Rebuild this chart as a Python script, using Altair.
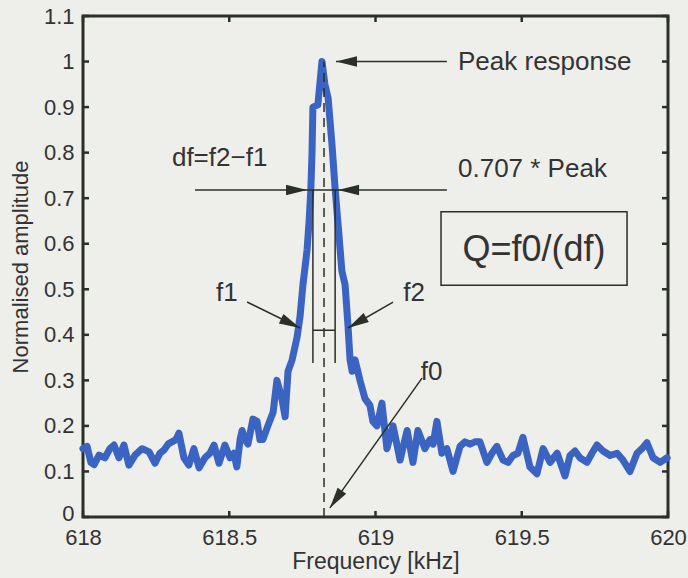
import altair as alt
import pandas as pd

# ---- measured spectrum (kHz, normalised amplitude) ----
freq = [618.000, 618.014, 618.027, 618.038, 618.055, 618.075, 618.092, 618.106, 618.123, 618.140,
        618.157, 618.178, 618.202, 618.226, 618.246, 618.263, 618.277, 618.291, 618.304, 618.318,
        618.328, 618.345, 618.362, 618.379, 618.397, 618.417, 618.434, 618.448, 618.465, 618.485,
        618.503, 618.516, 618.526, 618.537, 618.544, 618.554, 618.564, 618.581, 618.595, 618.605,
        618.615, 618.632, 618.650, 618.663, 618.680, 618.691, 618.701, 618.715, 618.732, 618.742,
        618.752, 618.766, 618.773, 618.779, 618.783, 618.786, 618.803, 618.817, 618.827, 618.838,
        618.851, 618.862, 618.875, 618.885, 618.896, 618.906, 618.913, 618.920, 618.930, 618.947,
        618.964, 618.981, 618.991, 619.005, 619.022, 619.039, 619.060, 619.084, 619.108, 619.128,
        619.145, 619.169, 619.186, 619.197, 619.210, 619.227, 619.244, 619.265, 619.289, 619.306,
        619.323, 619.340, 619.357, 619.381, 619.398, 619.415, 619.436, 619.453, 619.470, 619.487,
        619.504, 619.528, 619.552, 619.573, 619.597, 619.621, 619.648, 619.665, 619.682, 619.699,
        619.723, 619.740, 619.757, 619.778, 619.802, 619.826, 619.846, 619.870, 619.894, 619.911,
        619.928, 619.949, 619.973, 619.997]
amp = [0.150, 0.155, 0.120, 0.115, 0.136, 0.130, 0.150, 0.158, 0.130, 0.158,
       0.114, 0.136, 0.150, 0.143, 0.118, 0.140, 0.147, 0.160, 0.165, 0.170,
       0.184, 0.130, 0.114, 0.150, 0.108, 0.130, 0.140, 0.158, 0.118, 0.158,
       0.130, 0.140, 0.110, 0.170, 0.190, 0.170, 0.160, 0.215, 0.210, 0.170,
       0.170, 0.200, 0.230, 0.300, 0.260, 0.220, 0.320, 0.345, 0.395, 0.440,
       0.510, 0.586, 0.650, 0.720, 0.800, 0.900, 0.905, 1.000, 0.950, 0.920,
       0.820, 0.720, 0.620, 0.540, 0.510, 0.420, 0.345, 0.320, 0.345, 0.300,
       0.260, 0.245, 0.210, 0.200, 0.250, 0.150, 0.200, 0.125, 0.190, 0.120,
       0.190, 0.150, 0.170, 0.160, 0.210, 0.140, 0.150, 0.100, 0.155, 0.165,
       0.160, 0.165, 0.165, 0.120, 0.140, 0.155, 0.125, 0.120, 0.135, 0.140,
       0.175, 0.110, 0.095, 0.150, 0.120, 0.140, 0.090, 0.135, 0.145, 0.130,
       0.120, 0.140, 0.158, 0.145, 0.135, 0.140, 0.125, 0.100, 0.140, 0.150,
       0.163, 0.130, 0.120, 0.130]

x_ticks = [618, 618.5, 619, 619.5, 620]
y_ticks = [0, 0.1, 0.2, 0.3, 0.4, 0.5, 0.6, 0.7, 0.8, 0.9, 1.0, 1.1]

# ---- annotation values ----
f0 = 618.824
f1 = 618.786
f2 = 618.862
half_level = 0.718
peak = 1.0
inner_level = 0.41
inner_bottom = 0.338

# straight segments: x0, y0 -> x1, y1
seg_x0 = [618.383, 619.244, 618.561, 619.060, 619.159, f1, f2, f1]
seg_y0 = [half_level, peak, 0.472, 0.472, 0.305, half_level, half_level, inner_level]
seg_x1 = [619.244, 618.865, 618.742, 618.906, 618.844, f1, f2, f2]
seg_y1 = [half_level, peak, 0.415, 0.415, 0.020, inner_bottom, inner_bottom, inner_level]

# arrow heads: tip position and pointing direction (deg, clockwise from east)
head_x = [618.766, 618.872, 618.865, 618.742, 618.906, 618.844]
head_y = [half_level, half_level, peak, 0.415, 0.415, 0.020]
head_dir = [0, 180, 180, 26, 150, 125]

# labels
lab_text = ["Peak response", "0.707 * Peak", "df=f2\u2212f1", "f1", "f2", "f0"]
lab_x = [619.282, 619.282, 618.304, 618.455, 619.095, 619.155]
lab_y = [1.0, 0.764, 0.788, 0.492, 0.492, 0.318]

q_text = ["Q=f0/(df)"]
q_x = [619.542]
q_y = [0.586]
box_x0, box_x1, box_y0, box_y1 = [619.224], [619.860], [0.509], [0.670]

INK = "#2a2f28"
TXT = "#333333"
BLUE = "#3b63c2"
FONT = "Liberation Sans"

xs = alt.Scale(domain=[618, 620], nice=False, zero=False)
ys = alt.Scale(domain=[0, 1.1], nice=False, zero=False)

spec = pd.DataFrame({"f": freq, "a": amp})
curve = alt.Chart(spec).mark_line(color=BLUE, strokeWidth=7, strokeJoin="round", strokeCap="round").encode(
    x=alt.X("f:Q", scale=xs,
            axis=alt.Axis(values=x_ticks, format="~g", title="Frequency [kHz]", grid=False, ticks=False,
                          domain=False, labelFontSize=22, titleFontSize=23, labelPadding=10, titlePadding=2,
                          labelFont=FONT, titleFont=FONT, labelColor=TXT, titleColor=TXT,
                          titleFontWeight="normal", labelFlush=False)),
    y=alt.Y("a:Q", scale=ys,
            axis=alt.Axis(values=y_ticks, format="~g", title="Normalised amplitude", grid=False, ticks=False,
                          domain=False, labelFontSize=22, titleFontSize=22, labelPadding=9, titlePadding=11,
                          labelFont=FONT, titleFont=FONT, labelColor=TXT, titleColor=TXT,
                          titleFontWeight="normal", labelFlush=False,
                          labelOffset=alt.condition("datum.value == 0", alt.value(-4), alt.value(0)))),
)

dash = alt.Chart(pd.DataFrame({"x": [f0], "y0": [0.0], "y1": [peak]})).mark_rule(
    color=INK, strokeWidth=1.5, strokeDash=[9, 6]).encode(
    x=alt.X("x:Q", scale=xs), y=alt.Y("y0:Q", scale=ys), y2="y1:Q")

segs = alt.Chart(pd.DataFrame({"x0": seg_x0, "y0": seg_y0, "x1": seg_x1, "y1": seg_y1})).mark_rule(
    color=INK, strokeWidth=1.5).encode(
    x=alt.X("x0:Q", scale=xs), y=alt.Y("y0:Q", scale=ys), x2="x1:Q", y2="y1:Q")

heads = alt.Chart(pd.DataFrame({"x": head_x, "y": head_y, "d": head_dir})).mark_point(
    shape="M0,0L-2,-0.5L-2,0.5Z", filled=True, size=441, color=INK, opacity=1).encode(
    x=alt.X("x:Q", scale=xs), y=alt.Y("y:Q", scale=ys), angle=alt.Angle("d:Q", scale=None))

labels = alt.Chart(pd.DataFrame({"t": lab_text, "x": lab_x, "y": lab_y})).mark_text(
    align="left", baseline="middle", fontSize=26, font=FONT, color=TXT).encode(
    x=alt.X("x:Q", scale=xs), y=alt.Y("y:Q", scale=ys), text="t:N")

box = alt.Chart(pd.DataFrame({"x0": box_x0, "x1": box_x1, "y0": box_y0, "y1": box_y1})).mark_rect(
    fillOpacity=0, stroke=INK, strokeWidth=1.5).encode(
    x=alt.X("x0:Q", scale=xs), x2="x1:Q", y=alt.Y("y0:Q", scale=ys), y2="y1:Q")

qlab = alt.Chart(pd.DataFrame({"t": q_text, "x": q_x, "y": q_y})).mark_text(
    align="center", baseline="middle", fontSize=36, font=FONT, color=TXT).encode(
    x=alt.X("x:Q", scale=xs), y=alt.Y("y:Q", scale=ys), text="t:N")

# inward tick marks on all four sides
ydf = pd.DataFrame({"v": y_ticks})
xdf = pd.DataFrame({"v": x_ticks})
tick_l = alt.Chart(ydf).mark_rule(color=INK, strokeWidth=2.5).encode(
    y=alt.Y("v:Q", scale=ys), x=alt.value(0), x2=alt.value(6))
tick_r = alt.Chart(ydf).mark_rule(color=INK, strokeWidth=2.5).encode(
    y=alt.Y("v:Q", scale=ys), x=alt.value(579), x2=alt.value(585))
tick_b = alt.Chart(xdf).mark_rule(color=INK, strokeWidth=2.5).encode(
    x=alt.X("v:Q", scale=xs), y=alt.value(495), y2=alt.value(501))
tick_t = alt.Chart(xdf).mark_rule(color=INK, strokeWidth=2.5).encode(
    x=alt.X("v:Q", scale=xs), y=alt.value(0), y2=alt.value(6))

chart = alt.layer(curve, dash, segs, heads, labels, box, qlab, tick_l, tick_r, tick_b, tick_t).properties(
    width=585, height=501, autosize="none",
    padding={"left": 83, "top": 16, "right": 20, "bottom": 61},
).configure(background="#eeeeea").configure_view(stroke=INK, strokeWidth=3)

chart.save("out.html", embed_options={"renderer": "svg", "actions": False})
